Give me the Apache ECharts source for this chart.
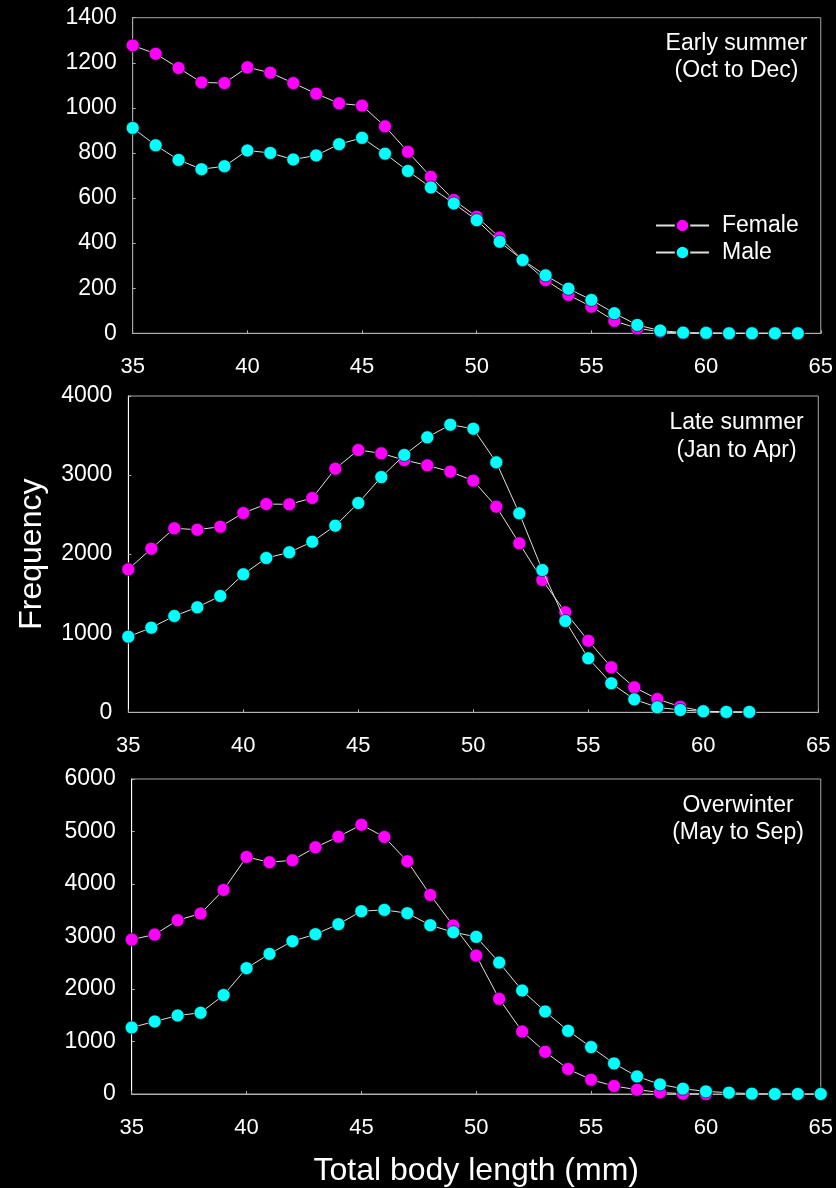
<!DOCTYPE html>
<html>
<head>
<meta charset="utf-8">
<script src="https://cdn.jsdelivr.net/npm/echarts@6.0.0/dist/echarts.min.js"></script>
<style>
html,body{margin:0;padding:0;background:#000;}
#chart{width:836px;height:1188px;}
</style>
</head>
<body>
<div id="chart"></div>
<script>
// Panel 1: Early summer (Oct to Dec)
const lengths1 = [35,36,37,38,39,40,41,42,43,44,45,46,47,48,49,50,51,52,53,54,55,56,57,58,59,60,61,62,63,64];
const female1 = [1277,1240,1177,1113,1110,1180,1156,1110,1063,1020,1010,918,805,694,591,517,425,325,236,170,118,55,22,7,0,0,0,0,0,0];
const male1 = [911,834,769,728,741,811,800,771,789,839,867,797,720,647,576,502,406,325,257,198,148,89,37,12,3,2,0,0,0,0];

// Panel 2: Late summer (Jan to Apr)
const lengths2 = [35,36,37,38,39,40,41,42,43,44,45,46,47,48,49,50,51,52,53,54,55,56,57,58,59,60,61,62];
const female2 = [1808,2069,2327,2309,2347,2520,2634,2630,2710,3080,3317,3275,3190,3123,3043,2929,2600,2137,1673,1265,905,569,316,168,71,15,5,0];
const male2 = [956,1070,1218,1328,1471,1745,1951,2023,2157,2360,2647,2975,3254,3477,3637,3586,3161,2516,1799,1155,683,367,164,63,29,13,5,5];

// Panel 3: Overwinter (May to Sep)
const lengthsF3 = [35,36,37,38,39,40,41,42,43,44,45,46,47,48,49,50,51,52,53,54,55,56,57,58,59,60];
const female3 = [2942,3037,3310,3437,3887,4515,4414,4452,4699,4901,5129,4895,4433,3792,3208,2637,1813,1191,805,476,272,152,82,30,6,0];
const lengthsM3 = [35,36,37,38,39,40,41,42,43,44,45,46,47,48,49,50,51,52,53,54,55,56,57,58,59,60,61,62,63,64,65];
const male3 = [1267,1381,1495,1547,1884,2397,2669,2911,3044,3234,3482,3507,3444,3215,3082,2993,2504,1971,1572,1204,894,582,335,183,101,50,25,6,0,0,0];

const panelLabels = ['Early summer\n(Oct to Dec)', 'Late summer\n(Jan to Apr)', 'Overwinter\n(May to Sep)'];
const yMax = [1400, 4000, 6000];
const yInterval = [200, 1000, 1000];
const seriesNames = ['Female', 'Male'];
const xTitle = 'Total body length (mm)';
const yTitle = 'Frequency';

const FONT = '"Liberation Sans", Arial, sans-serif';
const pair = (xs, ys) => xs.map((x, i) => [x, ys[i]]);

const grids = [
  {left: 132.7, top: 17.7, width: 690, height: 315.6},
  {left: 128.3, top: 396, width: 690, height: 316.3},
  {left: 131.7, top: 779, width: 690, height: 315.3}
];
const leftAxisColor = ['#a8a8a8', '#ffffff', '#ffffff'];

const chart = echarts.init(document.getElementById('chart'), null, {renderer: 'canvas'});

const option = {
  backgroundColor: '#000',
  animation: false,
  grid: grids.map(g => Object.assign({show: true, borderColor: '#a8a8a8', borderWidth: 1, backgroundColor: 'transparent'}, g)),
  xAxis: grids.map((g, i) => ({
    gridIndex: i, type: 'value', min: 35, max: 65, interval: 5,
    axisLine: {show: true, lineStyle: {color: '#b0b0b0', width: 1}},
    axisTick: {show: true, inside: true, length: 3, lineStyle: {color: '#b0b0b0'}},
    splitLine: {show: false},
    axisLabel: {color: '#fff', fontSize: 22, fontFamily: FONT, margin: 23, formatter: v => String(v)},
    name: i === 2 ? xTitle : '',
    nameLocation: 'middle', nameGap: 61,
    nameTextStyle: {color: '#fff', fontSize: 32, fontFamily: FONT}
  })),
  yAxis: grids.map((g, i) => ({
    gridIndex: i, type: 'value', min: 0, max: yMax[i], interval: yInterval[i],
    axisLine: {show: true, lineStyle: {color: leftAxisColor[i], width: 1}},
    axisTick: {show: true, inside: true, length: 3, lineStyle: {color: '#b0b0b0'}},
    splitLine: {show: false},
    axisLabel: {color: '#fff', fontSize: 23, fontFamily: FONT, margin: 16, formatter: v => String(v)},
    name: i === 1 ? yTitle : '',
    nameLocation: 'middle', nameGap: 80, nameRotate: 90,
    nameTextStyle: {color: '#fff', fontSize: 32, fontFamily: FONT}
  })),
  legend: {
    data: seriesNames,
    left: 650, top: 209, orient: 'vertical',
    itemWidth: 53, itemHeight: 17, itemGap: 4,
    textStyle: {color: '#fff', fontSize: 23, fontFamily: FONT, padding: [0, 0, 0, 8]}
  },
  graphic: [
    {type: 'text', x: 736.5, y: 30, style: {text: panelLabels[0], fill: '#fff', font: '23px ' + FONT, align: 'center', verticalAlign: 'top', lineHeight: 27}},
    {type: 'text', x: 736.5, y: 409, style: {text: panelLabels[1], fill: '#fff', font: '23px ' + FONT, align: 'center', verticalAlign: 'top', lineHeight: 28}},
    {type: 'text', x: 738, y: 792, style: {text: panelLabels[2], fill: '#fff', font: '23px ' + FONT, align: 'center', verticalAlign: 'top', lineHeight: 27}}
  ],
  series: []
};

const panelData = [
  [pair(lengths1, female1), pair(lengths1, male1)],
  [pair(lengths2, female2), pair(lengths2, male2)],
  [pair(lengthsF3, female3), pair(lengthsM3, male3)]
];
const colors = ['#ff00ff', '#00ffff'];
panelData.forEach((pd, i) => {
  pd.forEach((d, k) => {
    option.series.push({
      name: seriesNames[k], type: 'line', xAxisIndex: i, yAxisIndex: i,
      data: d, symbol: 'circle', symbolSize: 13, showAllSymbol: true,
      z: 2 + k,
      lineStyle: {color: '#e0e0e0', width: 1},
      itemStyle: {color: colors[k], borderColor: '#000', borderWidth: 0.6}
    });
  });
});

chart.setOption(option);
</script>
</body>
</html>
